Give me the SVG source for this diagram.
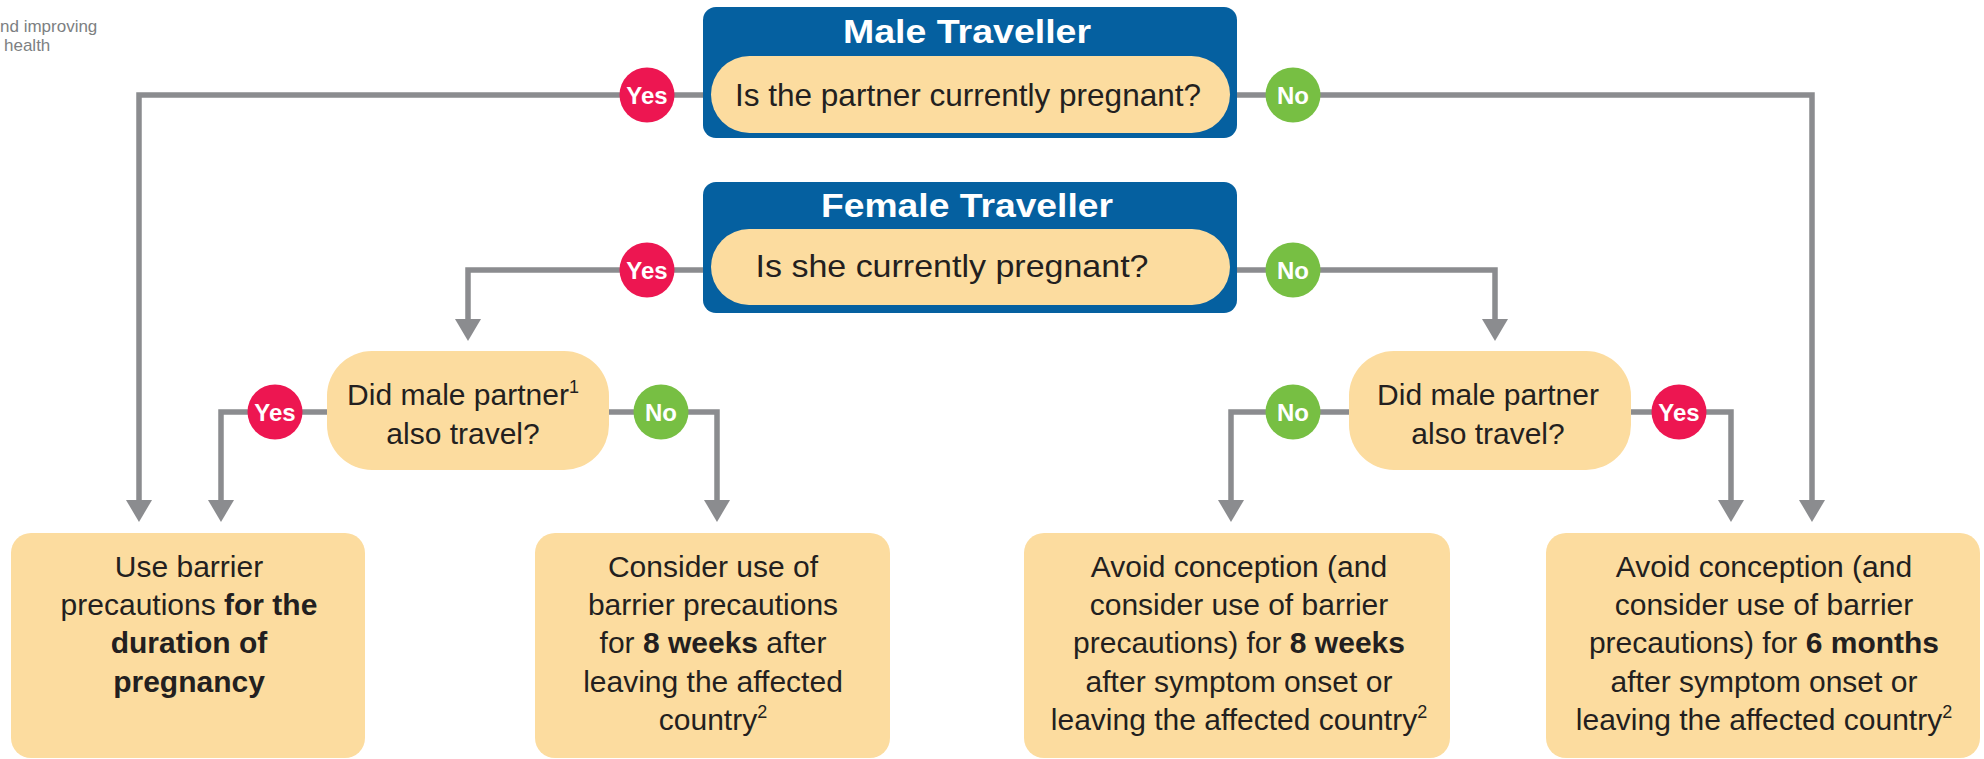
<svg xmlns="http://www.w3.org/2000/svg" width="1984" height="759" viewBox="0 0 1984 759">
<style>
.bg{fill:#ffffff}
.blue{fill:#0560a0}
.peach{fill:#fcdc9f}
.conn{fill:none;stroke:#8b8c8f;stroke-width:5.5;stroke-linejoin:miter}
.yes{fill:#ed1651}
.no{fill:#77bf43}
.badge{font-family:"Liberation Sans",Arial,sans-serif;font-weight:bold;font-size:24px;fill:#ffffff;text-anchor:middle}
.title{font-family:"Liberation Sans",Arial,sans-serif;font-weight:bold;font-size:34px;fill:#ffffff;text-anchor:middle}
.q{font-family:"Liberation Sans",Arial,sans-serif;font-size:32px;fill:#231f20;text-anchor:middle}
.t{font-family:"Liberation Sans",Arial,sans-serif;font-size:30px;fill:#231f20;text-anchor:middle}
.b{font-weight:bold}
.sup{font-size:18px}
.head{font-family:"Liberation Sans",Arial,sans-serif;font-size:17px;fill:#7d7f82}
</style>
<defs>
<marker id="arr" markerUnits="userSpaceOnUse" viewBox="0 0 22 26" refX="0" refY="13" markerWidth="22" markerHeight="26" orient="auto">
<path d="M0,0 L22,13 L0,26 Z" fill="#8b8c8f"/>
</marker>
</defs>
<rect class="bg" x="0" y="0" width="1984" height="759"/>
<g id="header">
<text class="head" x="0" y="32">nd improving</text>
<text class="head" x="4" y="51">health</text>
</g>
<g id="connectors">
<path class="conn" d="M703,95 H139 V500" marker-end="url(#arr)"/>
<path class="conn" d="M1237,95 H1812 V500" marker-end="url(#arr)"/>
<path class="conn" d="M703,270 H468 V319" marker-end="url(#arr)"/>
<path class="conn" d="M1237,270 H1495 V319" marker-end="url(#arr)"/>
<path class="conn" d="M327,412 H221 V500" marker-end="url(#arr)"/>
<path class="conn" d="M609,412 H717 V500" marker-end="url(#arr)"/>
<path class="conn" d="M1349,412 H1231 V500" marker-end="url(#arr)"/>
<path class="conn" d="M1631,412 H1731 V500" marker-end="url(#arr)"/>
</g>
<g id="male-traveller">
<rect class="blue" x="703" y="7" width="534" height="131" rx="13"/>
<text class="title" x="967" y="43" textLength="248" lengthAdjust="spacingAndGlyphs">Male Traveller</text>
<rect class="peach" x="711" y="56" width="519" height="77" rx="38.5"/>
<text class="q" x="968" y="106" textLength="466" lengthAdjust="spacingAndGlyphs">Is the partner currently pregnant?</text>
</g>
<g id="female-traveller">
<rect class="blue" x="703" y="182" width="534" height="131" rx="13"/>
<text class="title" x="967" y="217" textLength="292" lengthAdjust="spacingAndGlyphs">Female Traveller</text>
<rect class="peach" x="711" y="229" width="519" height="76" rx="38"/>
<text class="q" x="952" y="277" textLength="393" lengthAdjust="spacingAndGlyphs">Is she currently pregnant?</text>
</g>
<g id="q-left">
<rect class="peach" x="327" y="351" width="282" height="119" rx="45"/>
<text class="t" x="463" y="405">Did male partner<tspan class="sup" dy="-12">1</tspan></text>
<text class="t" x="463" y="444">also travel?</text>
</g>
<g id="q-right">
<rect class="peach" x="1349" y="351" width="282" height="119" rx="45"/>
<text class="t" x="1488" y="405">Did male partner</text>
<text class="t" x="1488" y="444">also travel?</text>
</g>
<g id="labels">
<circle class="yes" cx="647" cy="95" r="27.5"/><text class="badge" x="647" y="104">Yes</text>
<circle class="no" cx="1293" cy="95" r="27.5"/><text class="badge" x="1293" y="104">No</text>
<circle class="yes" cx="647" cy="270" r="27.5"/><text class="badge" x="647" y="279">Yes</text>
<circle class="no" cx="1293" cy="270" r="27.5"/><text class="badge" x="1293" y="279">No</text>
<circle class="yes" cx="275" cy="412" r="27.5"/><text class="badge" x="275" y="421">Yes</text>
<circle class="no" cx="661" cy="412" r="27.5"/><text class="badge" x="661" y="421">No</text>
<circle class="no" cx="1293" cy="412" r="27.5"/><text class="badge" x="1293" y="421">No</text>
<circle class="yes" cx="1679" cy="412" r="27.5"/><text class="badge" x="1679" y="421">Yes</text>
</g>
<g id="outcome-1">
<rect class="peach" x="11" y="533" width="354" height="225" rx="20"/>
<text class="t" x="189" y="577">Use barrier</text>
<text class="t" x="189" y="615">precautions <tspan class="b">for the</tspan></text>
<text class="t b" x="189" y="653">duration of</text>
<text class="t b" x="189" y="692">pregnancy</text>
</g>
<g id="outcome-2">
<rect class="peach" x="535" y="533" width="355" height="225" rx="20"/>
<text class="t" x="713" y="577">Consider use of</text>
<text class="t" x="713" y="615">barrier precautions</text>
<text class="t" x="713" y="653">for <tspan class="b">8 weeks</tspan> after</text>
<text class="t" x="713" y="692">leaving the affected</text>
<text class="t" x="713" y="730">country<tspan class="sup" dy="-12">2</tspan></text>
</g>
<g id="outcome-3">
<rect class="peach" x="1024" y="533" width="426" height="225" rx="20"/>
<text class="t" x="1239" y="577">Avoid conception (and</text>
<text class="t" x="1239" y="615">consider use of barrier</text>
<text class="t" x="1239" y="653">precautions) for <tspan class="b">8 weeks</tspan></text>
<text class="t" x="1239" y="692">after symptom onset or</text>
<text class="t" x="1239" y="730">leaving the affected country<tspan class="sup" dy="-12">2</tspan></text>
</g>
<g id="outcome-4">
<rect class="peach" x="1546" y="533" width="434" height="225" rx="20"/>
<text class="t" x="1764" y="577">Avoid conception (and</text>
<text class="t" x="1764" y="615">consider use of barrier</text>
<text class="t" x="1764" y="653">precautions) for <tspan class="b">6 months</tspan></text>
<text class="t" x="1764" y="692">after symptom onset or</text>
<text class="t" x="1764" y="730">leaving the affected country<tspan class="sup" dy="-12">2</tspan></text>
</g>
</svg>
